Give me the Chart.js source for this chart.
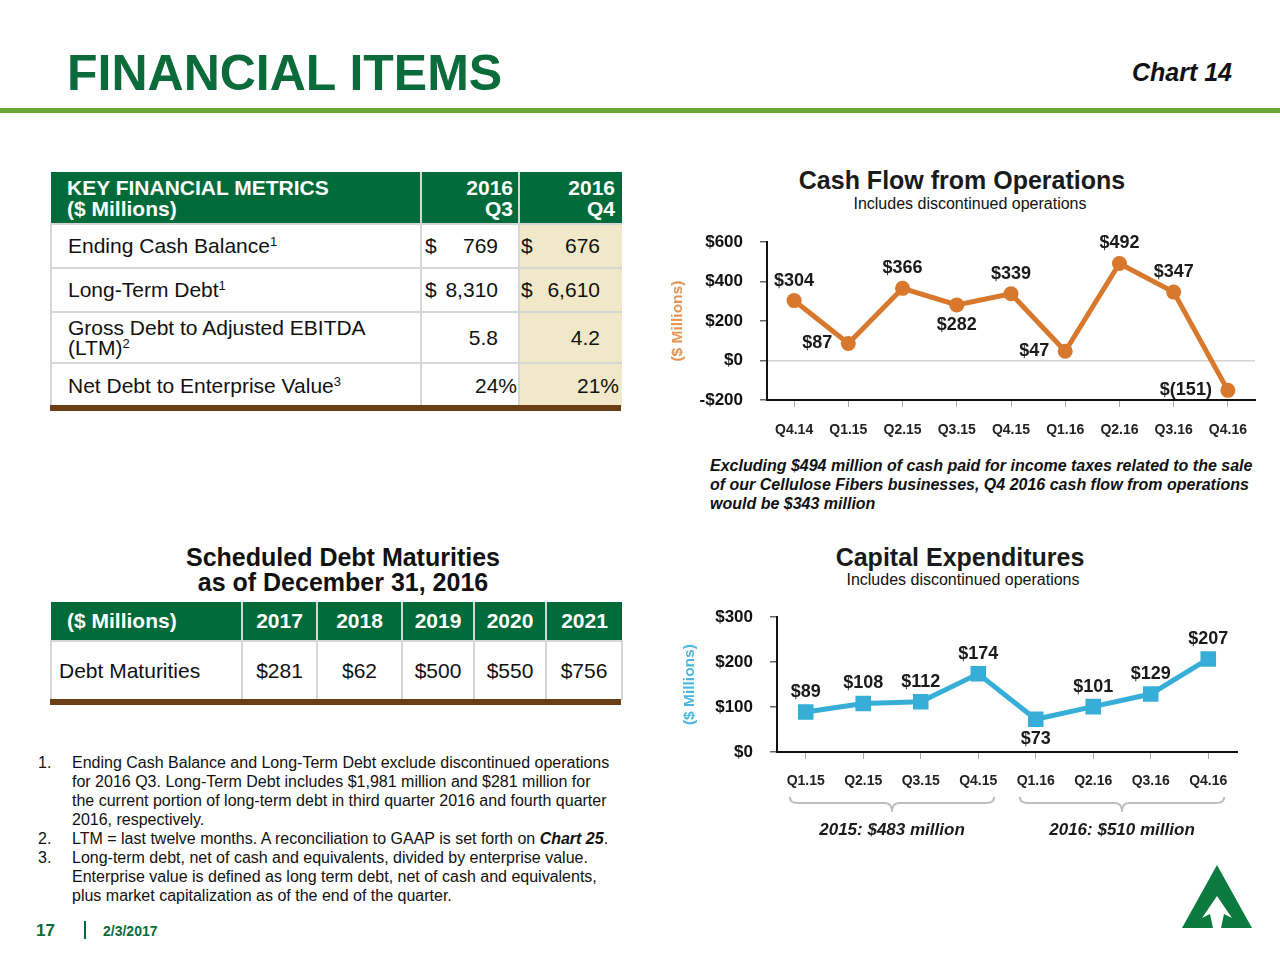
<!DOCTYPE html>
<html>
<head>
<meta charset="utf-8">
<script src="https://cdn.jsdelivr.net/npm/chart.js@4.4.0/dist/chart.umd.min.js"></script>
<style>
  body { margin: 0; width: 1280px; height: 960px; position: relative; overflow: hidden; background: #fff;
         font-family: "Liberation Sans", Arial, sans-serif; color: #111; }
  .abs { position: absolute; white-space: nowrap; }
  #pageTitle { left: 67px; top: 48px; font-size: 50px; line-height: 50px; font-weight: bold; color: #0b6b3a; }
  #chartNo { right: 48px; top: 60px; font-size: 25px; line-height: 25px; font-weight: bold; font-style: italic; }
  #rule { left: 0; top: 108px; width: 1280px; height: 5px; background: #6aa535; }
  .ctitle { font-size: 25px; line-height: 26px; font-weight: bold; color: #1a1a1a; text-align: center; width: 400px; }
  .csub { font-size: 16px; line-height: 17px; color: #111; text-align: center; width: 400px; }
  table { position: absolute; border-collapse: collapse; table-layout: fixed; }
  td { padding: 0; border: 2px solid #d6d6d6; font-size: 21px; }
  tr.hd td { background: #006b3a; color: #fff; font-weight: bold; border-color: #d6d6d6; border-top: none; }
  .val { display: flex; justify-content: space-between; }
  td.q4 { background: #f0e8c8; }
  sup { font-size: 13px; vertical-align: 7px; line-height: 0; }
  .bar { position: absolute; height: 6px; background: #6b3e13; }
  .note { left: 710px; top: 456px; font-size: 16px; line-height: 19px; font-weight: bold; font-style: italic; }
  .fn { font-size: 16px; line-height: 19px; }
  canvas { position: absolute; }
</style>
</head>
<body>
<div id="pageTitle" class="abs">FINANCIAL ITEMS</div>
<div id="chartNo" class="abs">Chart 14</div>
<div id="rule" class="abs"></div>

<table style="left:50px; top:172px; width:571px">
  <colgroup><col style="width:370px"><col style="width:98px"><col style="width:103px"></colgroup>
  <tr class="hd" style="height:52px; line-height:21px">
    <td style="padding-left:16px; border-left:none">KEY FINANCIAL METRICS<br>($ Millions)</td>
    <td style="text-align:right; padding-right:5px">2016<br>Q3</td>
    <td style="text-align:right; padding-right:7px; border-right:none">2016<br>Q4</td>
  </tr>
  <tr style="height:44px">
    <td style="padding-left:16px">Ending Cash Balance<sup>1</sup></td>
    <td><div class="val" style="padding:0 20px 0 3px"><span>$</span><span>769</span></div></td>
    <td class="q4" style="border-right:none"><div class="val" style="padding:0 22px 0 1px"><span>$</span><span>676</span></div></td>
  </tr>
  <tr style="height:44px">
    <td style="padding-left:16px">Long-Term Debt<sup>1</sup></td>
    <td><div class="val" style="padding:0 20px 0 3px"><span>$</span><span>8,310</span></div></td>
    <td class="q4" style="border-right:none"><div class="val" style="padding:0 22px 0 1px"><span>$</span><span>6,610</span></div></td>
  </tr>
  <tr style="height:51px; line-height:20px">
    <td style="padding-left:16px">Gross Debt to Adjusted EBITDA<br>(LTM)<sup>2</sup></td>
    <td style="text-align:right; padding-right:20px">5.8</td>
    <td class="q4" style="text-align:right; padding-right:22px; border-right:none">4.2</td>
  </tr>
  <tr style="height:44px">
    <td style="padding-left:16px; border-bottom:none">Net Debt to Enterprise Value<sup>3</sup></td>
    <td style="text-align:right; padding-right:1px; border-bottom:none">24%</td>
    <td class="q4" style="text-align:right; padding-right:3px; border-right:none; border-bottom:none">21%</td>
  </tr>
</table>
<div class="bar" style="left:50px; top:405px; width:571px"></div>

<div class="abs" style="left:143px; top:545px; width:400px; text-align:center; font-size:25px; line-height:25px; font-weight:bold">Scheduled Debt Maturities<br>as of December 31, 2016</div>
<table style="left:50px; top:602px; width:571px">
  <colgroup><col style="width:191px"><col style="width:75px"><col style="width:85px"><col style="width:72px"><col style="width:72px"><col style="width:76px"></colgroup>
  <tr class="hd" style="height:39px">
    <td style="padding-left:16px; border-left:none">($ Millions)</td>
    <td style="text-align:center">2017</td>
    <td style="text-align:center">2018</td>
    <td style="text-align:center">2019</td>
    <td style="text-align:center">2020</td>
    <td style="text-align:center; border-right:none">2021</td>
  </tr>
  <tr style="height:59px">
    <td style="padding-left:7px; border-bottom:none">Debt Maturities</td>
    <td style="text-align:center; border-bottom:none">$281</td>
    <td style="text-align:center; border-bottom:none">$62</td>
    <td style="text-align:center; border-bottom:none">$500</td>
    <td style="text-align:center; border-bottom:none">$550</td>
    <td style="text-align:center; border-bottom:none">$756</td>
  </tr>
</table>
<div class="bar" style="left:50px; top:699px; width:571px"></div>

<div class="abs fn" style="left:38px; top:753px">1.</div>
<div class="abs fn" style="left:72px; top:753px">Ending Cash Balance and Long-Term Debt exclude discontinued operations<br>for 2016 Q3. Long-Term Debt includes $1,981 million and $281 million for<br>the current portion of long-term debt in third quarter 2016 and fourth quarter<br>2016, respectively.</div>
<div class="abs fn" style="left:38px; top:829px">2.</div>
<div class="abs fn" style="left:72px; top:829px">LTM = last twelve months. A reconciliation to GAAP is set forth on <b><i>Chart 25</i></b>.</div>
<div class="abs fn" style="left:38px; top:848px">3.</div>
<div class="abs fn" style="left:72px; top:848px">Long-term debt, net of cash and equivalents, divided by enterprise value.<br>Enterprise value is defined as long term debt, net of cash and equivalents,<br>plus market capitalization as of the end of the quarter.</div>

<div class="abs" style="left:36px; top:921px; font-size:17px; line-height:20px; font-weight:bold; color:#0b6b3a">17</div>
<div class="abs" style="left:84px; top:921px; width:2px; height:18px; background:#0b6b3a"></div>
<div class="abs" style="left:103px; top:923px; font-size:14px; line-height:16px; font-weight:bold; color:#0b6b3a">2/3/2017</div>

<svg class="abs" style="left:1176px; top:860px" width="80" height="72" viewBox="0 0 80 72">
  <polygon points="41,5 6,68 76,68" fill="#0a7a3e"/>
  <polygon points="41,36 56,58 48,54 45,68 37,68 34,54 26,58" fill="#fff"/>
</svg>

<div class="abs ctitle" style="left:762px; top:167px">Cash Flow from Operations</div>
<div class="abs csub" style="left:770px; top:195px">Includes discontinued operations</div>
<div class="abs note">Excluding $494 million of cash paid for income taxes related to the sale<br>of our Cellulose Fibers businesses, Q4 2016 cash flow from operations<br>would be $343 million</div>

<div class="abs ctitle" style="left:760px; top:544px">Capital Expenditures</div>
<div class="abs csub" style="left:763px; top:571px">Includes discontinued operations</div>

<canvas id="cfoChart" width="605" height="230" style="left:660px; top:215px"></canvas>
<canvas id="capexChart" width="600" height="255" style="left:660px; top:590px"></canvas>

<script>
const cfoQuarters = ['Q4.14', 'Q1.15', 'Q2.15', 'Q3.15', 'Q4.15', 'Q1.16', 'Q2.16', 'Q3.16', 'Q4.16'];
const cfoValues = [304, 87, 366, 282, 339, 47, 492, 347, -151];
const cfoLabelSide = ['above', 'left', 'above', 'below', 'above', 'left', 'above', 'above', 'left'];

const capexQuarters = ['Q1.15', 'Q2.15', 'Q3.15', 'Q4.15', 'Q1.16', 'Q2.16', 'Q3.16', 'Q4.16'];
const capexValues = [89, 108, 112, 174, 73, 101, 129, 207];
const capexLabelSide = ['above', 'above', 'above', 'above', 'below', 'above', 'above', 'above'];
const capexYearLabels = ['2015: $483 million', '2016: $510 million'];
const capexYearSpans = [[0, 3], [4, 7]];

const FONT = '"Liberation Sans", Arial, sans-serif';
const orange = '#d8782c';
const blue = '#36aed8';

function money(v) {
  return v < 0 ? '$(' + (-v) + ')' : '$' + v;
}
function tickMoney(v) {
  return v < 0 ? '-$' + (-v) : '$' + v;
}

// value labels next to each point
const valueLabels = {
  id: 'valueLabels',
  afterDatasetsDraw(chart, args, opts) {
    const ctx = chart.ctx;
    const ds = chart.data.datasets[0].data;
    ctx.save();
    ctx.font = 'bold 18px ' + FONT;
    ctx.fillStyle = '#1a1a1a';
    ctx.textBaseline = 'middle';
    chart.getDatasetMeta(0).data.forEach((p, i) => {
      const side = opts.sides[i];
      const txt = money(ds[i]);
      if (side === 'left') {
        ctx.textAlign = 'right';
        ctx.fillText(txt, p.x - 16, p.y);
      } else {
        ctx.textAlign = 'center';
        ctx.fillText(txt, p.x, side === 'above' ? p.y - 20 : p.y + 20);
      }
    });
    ctx.restore();
  }
};

// curly brackets + yearly totals under the capex axis
const yearBrackets = {
  id: 'yearBrackets',
  afterDraw(chart, args, opts) {
    if (!opts.spans) return;
    const ctx = chart.ctx;
    const x = chart.scales.x;
    const y0 = chart.chartArea.bottom + 45;
    ctx.save();
    opts.spans.forEach((s, i) => {
      const a = x.getPixelForValue(s[0]) - 16;
      const b = x.getPixelForValue(s[1]) + 16;
      const m = (a + b) / 2;
      ctx.beginPath();
      ctx.moveTo(a, y0);
      ctx.quadraticCurveTo(a, y0 + 6, a + 8, y0 + 6);
      ctx.lineTo(m - 7, y0 + 6);
      ctx.quadraticCurveTo(m, y0 + 6, m, y0 + 15);
      ctx.quadraticCurveTo(m, y0 + 6, m + 7, y0 + 6);
      ctx.lineTo(b - 8, y0 + 6);
      ctx.quadraticCurveTo(b, y0 + 6, b, y0);
      ctx.strokeStyle = '#bdbdbd';
      ctx.lineWidth = 2;
      ctx.stroke();
      ctx.font = 'italic bold 17px ' + FONT;
      ctx.fillStyle = '#1a1a1a';
      ctx.textAlign = 'center';
      ctx.textBaseline = 'middle';
      ctx.fillText(opts.labels[i], m, chart.chartArea.bottom + 78);
    });
    ctx.restore();
  }
};

function makeOptions(o) {
  return {
    responsive: false,
    animation: false,
    events: [],
    layout: { padding: o.padding },
    plugins: {
      legend: { display: false },
      tooltip: { enabled: false },
      valueLabels: { sides: o.sides },
      yearBrackets: o.brackets || {}
    },
    scales: {
      x: {
        offset: true,
        afterFit: (s) => { s.height = 45; },
        border: { color: '#111', width: 2 },
        grid: { offset: false, drawOnChartArea: false, tickLength: 7, tickColor: '#aaa' },
        ticks: { color: '#222', font: { family: FONT, size: 14, weight: 'bold' }, padding: o.xPad, maxRotation: 0 }
      },
      y: {
        min: o.min, max: o.max,
        afterFit: (s) => { s.width = o.yWidth; },
        border: { color: '#111', width: 2 },
        grid: {
          color: (c) => (c.tick && c.tick.value === 0 && o.zeroLine ? '#d4d4d4' : 'rgba(0,0,0,0)'),
          lineWidth: 1.5, tickLength: 7, tickColor: '#666'
        },
        ticks: { stepSize: o.step, padding: 17, color: '#111', font: { family: FONT, size: 17, weight: 'bold' }, callback: tickMoney },
        title: { display: true, text: '($ Millions)', color: o.titleColor, font: { family: FONT, size: 15.5, weight: 'bold' }, padding: { top: o.titlePad, bottom: 0 } }
      }
    }
  };
}

new Chart(document.getElementById('cfoChart'), {
  type: 'line',
  data: {
    labels: cfoQuarters,
    datasets: [{
      data: cfoValues,
      borderColor: orange,
      backgroundColor: orange,
      borderWidth: 5,
      pointRadius: 7.5,
      pointBorderWidth: 0,
      pointBackgroundColor: orange,
      tension: 0
    }]
  },
  options: makeOptions({
    padding: { top: 16, right: 10, left: 0, bottom: 0 },
    sides: cfoLabelSide, min: -200, max: 600, step: 200, yWidth: 107,
    zeroLine: true, titleColor: '#e39557', titlePad: 8, xPad: 15
  }),
  plugins: [valueLabels]
});

new Chart(document.getElementById('capexChart'), {
  type: 'line',
  data: {
    labels: capexQuarters,
    datasets: [{
      data: capexValues,
      borderColor: blue,
      backgroundColor: blue,
      borderWidth: 5,
      pointStyle: 'rect',
      pointRadius: 11,
      pointBorderWidth: 0,
      pointBackgroundColor: blue,
      tension: 0
    }]
  },
  options: makeOptions({
    padding: { top: 18, right: 23, left: 0, bottom: 48 },
    sides: capexLabelSide, min: 0, max: 300, step: 100, yWidth: 117,
    zeroLine: false, titleColor: '#4cb6de', titlePad: 20, xPad: 14,
    brackets: { spans: capexYearSpans, labels: capexYearLabels }
  }),
  plugins: [valueLabels, yearBrackets]
});
</script>
</body>
</html>
